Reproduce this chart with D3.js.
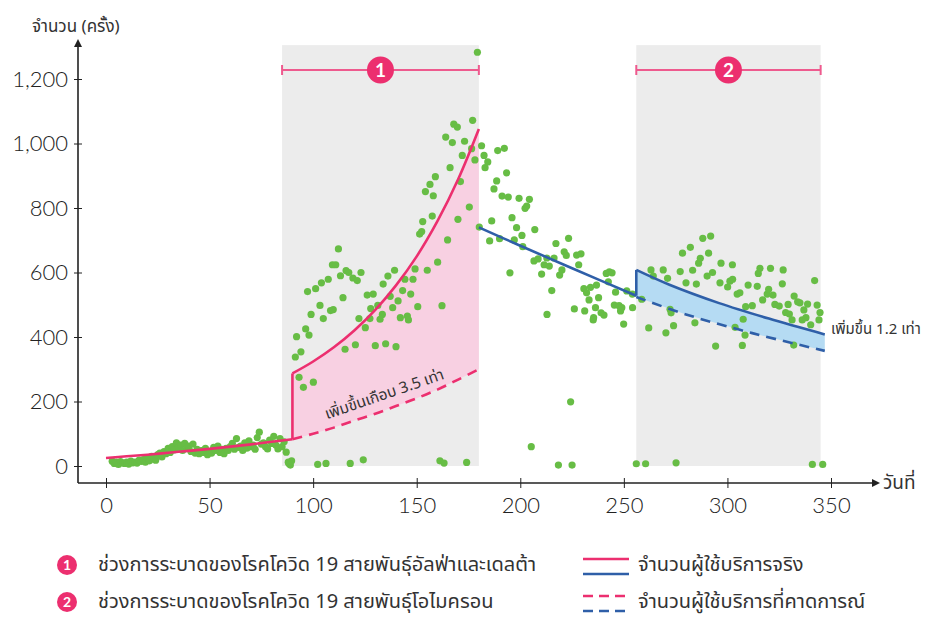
<!DOCTYPE html>
<html>
<head>
<meta charset="utf-8">
<script src="https://cdn.jsdelivr.net/npm/d3@7"></script>
<style>
body { margin: 0; background: #ffffff; }
</style>
</head>
<body>
<script>
// 坐标轴刻度
const xTicks = [0, 50, 100, 150, 200, 250, 300, 350];
const yTicks = [0, 200, 400, 600, 800, 1000, 1200];

// 疫情区间（天）
const waves = [
    {label: '1', start: 85, end: 180},
    {label: '2', start: 256, end: 345}
];

// 实际使用人数（粉色：0-180 天，蓝色：180-347 天）
const realA = [[0, 25], [10, 30], [20, 35], [30, 41], [40, 47], [50, 53], [60, 60], [70, 67], [80, 75], [90, 83]];
const realB = [[90, 287], [100, 324], [110, 368], [120, 421], [130, 484], [140, 560], [150, 650], [160, 759], [170, 889], [180, 1045]];
const predB = [[90, 83], [100, 100], [110, 119], [120, 141], [130, 162], [140, 186], [150, 210], [160, 237], [170, 268], [180, 300]];
const realC = [[180, 740], [200, 683], [225, 613], [256, 528]];
const realD = [[256, 608], [272, 562], [296, 505], [320, 457], [347, 408]];
const predD = [[256, 524], [280, 470], [312, 412], [347, 357]];

// 每日数据点
const dots = [
    [3, 15], [4, 8], [5, 12], [6, 5], [7, 14], [8, 10], [9, 8], [10, 12], [11, 6], [12, 15], [13, 10], [14, 12], [15, 9],
    [16, 18], [17, 14], [18, 20], [19, 12], [20, 25], [21, 16], [22, 30], [23, 22], [24, 18], [25, 35], [26, 40], [27, 28],
    [28, 45], [29, 38], [30, 55], [31, 42], [32, 60], [33, 50], [34, 72], [35, 58], [36, 65], [37, 48], [38, 70], [39, 55],
    [40, 62], [41, 45], [42, 68], [43, 40], [44, 52], [45, 38], [46, 48], [47, 42], [48, 55], [49, 35], [50, 45], [51, 40],
    [52, 58], [53, 48], [54, 62], [55, 42], [56, 52], [57, 38], [58, 55], [59, 48], [60, 60], [61, 70], [62, 52], [63, 85],
    [64, 58], [65, 62], [66, 48], [67, 72], [68, 55], [69, 78], [70, 60], [71, 65], [72, 52], [73, 88], [74, 105], [75, 68],
    [76, 72], [77, 60], [78, 53], [79, 80], [80, 70], [81, 92], [82, 65], [83, 53], [84, 85], [85, 60], [86, 75], [87, 43],
    [88, 12], [89, 3],
    [88.3, 8], [89.6, 16], [91.4, 338], [92, 401], [93.2, 275], [94.1, 354], [95.3, 244], [96.4, 425], [97.3, 541], [98, 406],
    [99, 470], [100.1, 260], [101.2, 550], [102.2, 5], [103.3, 498], [104, 568], [104.9, 457], [106.2, 8], [107.3, 579],
    [108.4, 482], [109.3, 624], [109.7, 485], [110.9, 624], [112.2, 673], [113.2, 590], [114.4, 522], [115.4, 362],
    [115.9, 606], [117.2, 600], [117.9, 8], [119.2, 583], [120.4, 376], [121.3, 575], [122.1, 457], [123.1, 600], [124.2, 19],
    [125.2, 429], [126.1, 530], [127.4, 457], [127.8, 488], [129, 533], [130, 373], [131.2, 498], [132.3, 455], [133.4, 470],
    [133.8, 564], [135, 379], [136.1, 589], [137.2, 526], [138.4, 491], [139.3, 607], [140, 370], [141, 512], [142.1, 460],
    [143.2, 544], [144.3, 579], [145.5, 465], [146, 453], [147.1, 533], [148.2, 579], [149.2, 611], [150.5, 494], [151.4, 719],
    [152.4, 727], [152.9, 758], [154.2, 851], [155.1, 607], [156.4, 873], [157.5, 775], [158, 838], [159, 897], [160.1, 632],
    [161.2, 16], [162.2, 497], [163.2, 9], [164, 1020], [164.9, 701], [166.1, 925], [167.2, 1003], [167.9, 1060], [169.6, 1051],
    [169.9, 765], [171.1, 882], [172, 963], [173.1, 1007], [174.1, 11], [175.4, 803], [176.5, 984], [177, 1072], [178.1, 949],
    [179.3, 1283],
    [180.2, 741], [181.3, 993], [182.5, 963], [183, 925], [184.3, 943], [185.2, 698], [186.2, 760], [187.3, 859], [188.6, 884],
    [189.1, 978], [190, 705], [191.2, 837], [192.3, 985], [193.4, 909], [194.2, 834], [195, 599], [196, 770], [197.1, 701],
    [198.2, 739], [199.4, 830], [200.8, 715], [201.2, 680], [202.3, 799], [203.1, 806], [204.4, 827], [205.3, 60], [206.6, 636],
    [207, 733], [208.6, 642], [210.3, 595], [211.5, 624], [212.8, 645], [212.9, 470], [214, 620], [215.2, 544], [216.3, 645],
    [217.2, 690], [218.4, 3], [219, 592], [220.1, 608], [221.2, 664], [222.2, 653], [223.3, 706], [224.3, 199], [225, 3],
    [226.1, 487], [227.2, 654], [228.2, 624], [229.3, 658], [230.7, 550], [231.1, 481], [232, 537], [233.2, 515], [233.9, 554],
    [235.2, 453], [235.4, 460], [236.3, 491], [236.8, 561], [237.8, 522], [239, 475], [240.4, 468], [241.5, 597], [242.5, 571],
    [243, 602], [244.3, 599], [245.4, 499], [246, 539], [247.7, 497], [248.4, 481], [249, 491], [249.9, 440], [251.4, 543],
    [254.1, 533], [254.2, 491],
    [256, 7], [258.6, 517], [260.5, 7], [262, 428], [263.1, 608], [264.2, 589], [269, 608], [270.3, 413], [271.1, 582],
    [272.3, 486], [272.8, 475], [274, 435], [275.2, 10], [277.2, 603], [278.3, 660], [280, 568], [282.1, 678], [283.2, 607],
    [284.3, 444], [285, 564], [286.1, 629], [286.9, 644], [288.1, 706], [290.2, 589], [290.9, 660], [291.9, 713], [292.8, 600],
    [294.3, 372], [296.4, 568], [296.9, 629], [300.1, 555], [301.2, 573], [302.4, 624], [302.5, 579], [303.7, 430], [304.7, 533],
    [306, 537], [307.2, 374], [307.6, 455], [308.5, 406], [308.8, 494], [310, 561], [312, 497], [314.4, 557], [314.9, 597],
    [315.7, 613], [317, 515], [319.2, 533], [319.9, 548], [320.8, 613], [322, 530], [322.9, 501], [325, 496], [326.5, 565],
    [326.9, 608], [328.1, 476], [329.3, 501], [329.9, 471], [331.2, 453], [332, 375], [332.2, 527], [333.9, 509], [335, 506],
    [336.1, 453], [336.9, 484], [337.9, 460], [338.7, 502], [340.2, 438], [341, 5], [342.1, 575], [343.3, 499], [344.2, 453],
    [344.7, 476], [346, 5]
];

// 图例
const waveLegend = [
    {label: '1', text: 'ช่วงการระบาดของโรคโควิด 19 สายพันธุ์อัลฟ่าและเดลต้า'},
    {label: '2', text: 'ช่วงการระบาดของโรคโควิด 19 สายพันธุ์โอไมครอน'}
];
const lineLegend = [
    {dashed: false, text: 'จำนวนผู้ใช้บริการจริง'},
    {dashed: true, text: 'จำนวนผู้ใช้บริการที่คาดการณ์'}
];

const PINK = '#ec2f6f';
const BLUE = '#2f5fa8';
const GREEN = '#67bd45';
const THAI = '"Noto Sans Thai", "Noto Sans Thai UI", "Noto Sans", "DejaVu Sans", sans-serif';
const NUM = 'Lato, "Noto Sans", sans-serif';

const width = 925, height = 617;
const svg = d3.select('body')
    .append('svg')
    .attr('width', width)
    .attr('height', height);

const x = d3.scaleLinear().domain([0, 350]).range([106, 831]);
const y = d3.scaleLinear().domain([0, 1200]).range([466, 79]);
const axisX = 78, axisY = 483;

// 灰色区间背景
svg.append('g')
    .selectAll('rect')
    .data(waves)
    .join('rect')
    .attr('x', d => x(d.start))
    .attr('width', d => x(d.end) - x(d.start))
    .attr('y', y(1305))
    .attr('height', y(0) - y(1305))
    .attr('fill', '#ececec');

// 填充区域
const pinkArea = d3.area()
    .x(d => x(d[0]))
    .y0((d, i) => y(predB[i][1]))
    .y1(d => y(d[1]))
    .curve(d3.curveCatmullRom);
svg.append('path')
    .datum(realB)
    .attr('d', pinkArea)
    .attr('fill', '#f8d0e2');

const bluePoly = realD.concat(predD.slice().reverse());
svg.append('path')
    .datum(bluePoly)
    .attr('d', d3.line().x(d => x(d[0])).y(d => y(d[1])))
    .attr('fill', '#b5dbf3');

// 数据点
svg.append('g')
    .selectAll('circle')
    .data(dots)
    .join('circle')
    .attr('cx', d => x(d[0]))
    .attr('cy', d => y(d[1]))
    .attr('r', 3.6)
    .attr('fill', GREEN);

// 折线
const line = d3.line().x(d => x(d[0])).y(d => y(d[1])).curve(d3.curveCatmullRom);
const drawLine = (data, color, dashed) => {
    svg.append('path')
        .datum(data)
        .attr('d', line)
        .attr('fill', 'none')
        .attr('stroke', color)
        .attr('stroke-width', 2.6)
        .attr('stroke-dasharray', dashed ? '10,7' : null);
};
drawLine(predB, PINK, true);
drawLine(predD, BLUE, true);
drawLine(realA, PINK, false);
drawLine([realA[realA.length - 1], realB[0]], PINK, false);
drawLine(realB, PINK, false);
drawLine(realC, BLUE, false);
drawLine([realC[realC.length - 1], realD[0]], BLUE, false);
drawLine(realD, BLUE, false);

// 区间标注
const bracketY = 70;
const wavesG = svg.append('g')
    .selectAll('g')
    .data(waves)
    .join('g');
wavesG.append('line')
    .attr('x1', d => x(d.start)).attr('x2', d => x(d.end))
    .attr('y1', bracketY).attr('y2', bracketY)
    .attr('stroke', '#ee5a8e').attr('stroke-width', 2);
wavesG.append('line')
    .attr('x1', d => x(d.start)).attr('x2', d => x(d.start))
    .attr('y1', bracketY - 5).attr('y2', bracketY + 5)
    .attr('stroke', '#ee5a8e').attr('stroke-width', 2);
wavesG.append('line')
    .attr('x1', d => x(d.end)).attr('x2', d => x(d.end))
    .attr('y1', bracketY - 5).attr('y2', bracketY + 5)
    .attr('stroke', '#ee5a8e').attr('stroke-width', 2);
wavesG.append('circle')
    .attr('cx', d => (x(d.start) + x(d.end)) / 2)
    .attr('cy', bracketY)
    .attr('r', 13.5)
    .attr('fill', PINK);
wavesG.append('text')
    .attr('x', d => (x(d.start) + x(d.end)) / 2)
    .attr('y', bracketY)
    .attr('dy', '0.36em')
    .attr('text-anchor', 'middle')
    .attr('fill', '#ffffff')
    .style('font', `bold 19px ${NUM}`)
    .text(d => d.label);

// 坐标轴
const yAxis = svg.append('g')
    .attr('transform', `translate(${axisX},0)`)
    .call(d3.axisLeft(y).tickValues(yTicks).tickSize(0).tickPadding(10).tickFormat(d3.format(',')));
yAxis.select('.domain').remove();
yAxis.selectAll('.tick line').attr('x1', -4).attr('x2', 4).attr('stroke', '#222');
yAxis.selectAll('.tick text')
    .style('font', `300 22px ${NUM}`)
    .attr('fill', '#222');

const xAxis = svg.append('g')
    .attr('transform', `translate(0,${axisY})`)
    .call(d3.axisBottom(x).tickValues(xTicks).tickSize(0).tickPadding(14));
xAxis.select('.domain').remove();
xAxis.selectAll('.tick line').attr('y1', -5).attr('y2', 5).attr('stroke', '#222');
xAxis.selectAll('.tick text')
    .style('font', `300 22px ${NUM}`)
    .attr('fill', '#222');

svg.append('line')
    .attr('x1', axisX).attr('x2', axisX)
    .attr('y1', axisY).attr('y2', 46)
    .attr('stroke', '#222').attr('stroke-width', 1.6);
svg.append('path')
    .attr('d', `M${axisX - 4},47 L${axisX},39 L${axisX + 4},47 Z`)
    .attr('fill', '#222');
svg.append('line')
    .attr('x1', axisX).attr('x2', 873)
    .attr('y1', axisY).attr('y2', axisY)
    .attr('stroke', '#222').attr('stroke-width', 1.6);
svg.append('path')
    .attr('d', `M872,${axisY - 4} L880,${axisY} L872,${axisY + 4} Z`)
    .attr('fill', '#222');

svg.append('text')
    .attr('x', 32).attr('y', 32)
    .style('font', `17px ${THAI}`)
    .attr('fill', '#333')
    .text('จำนวน (ครั้ง)');
svg.append('text')
    .attr('x', 883).attr('y', 489)
    .style('font', `19px ${THAI}`)
    .attr('fill', '#333')
    .text('วันที่');

// 注释文字
svg.append('text')
    .attr('transform', 'translate(386,399) rotate(-19)')
    .attr('text-anchor', 'middle')
    .style('font', `15.5px ${THAI}`)
    .attr('fill', '#333')
    .text('เพิ่มขึ้นเกือบ 3.5 เท่า');
svg.append('text')
    .attr('x', 831).attr('y', 334)
    .style('font', `15px ${THAI}`)
    .attr('fill', '#333')
    .text('เพิ่มขึ้น 1.2 เท่า');

// 图例：区间
const wl = svg.append('g')
    .selectAll('g')
    .data(waveLegend)
    .join('g')
    .attr('transform', (d, i) => `translate(67,${565 + i * 37})`);
wl.append('circle').attr('r', 10).attr('fill', PINK);
wl.append('text')
    .attr('dy', '0.36em')
    .attr('text-anchor', 'middle')
    .attr('fill', '#fff')
    .style('font', `bold 14px ${NUM}`)
    .text(d => d.label);
wl.append('text')
    .attr('x', 31).attr('dy', '0.3em')
    .style('font', `20px ${THAI}`)
    .attr('fill', '#333')
    .text(d => d.text);

// 图例：线型
const ll = svg.append('g')
    .selectAll('g')
    .data(lineLegend)
    .join('g')
    .attr('transform', (d, i) => `translate(583,${559 + i * 37})`);
ll.append('line')
    .attr('x1', 0).attr('x2', 46).attr('y1', 0).attr('y2', 0)
    .attr('stroke', PINK).attr('stroke-width', 2.6)
    .attr('stroke-dasharray', d => d.dashed ? '10,6' : null);
ll.append('line')
    .attr('x1', 0).attr('x2', 46).attr('y1', 15).attr('y2', 15)
    .attr('stroke', BLUE).attr('stroke-width', 2.6)
    .attr('stroke-dasharray', d => d.dashed ? '10,6' : null);
ll.append('text')
    .attr('x', 55).attr('y', 6).attr('dy', '0.3em')
    .style('font', `20px ${THAI}`)
    .attr('fill', '#333')
    .text(d => d.text);
</script>
</body>
</html>
